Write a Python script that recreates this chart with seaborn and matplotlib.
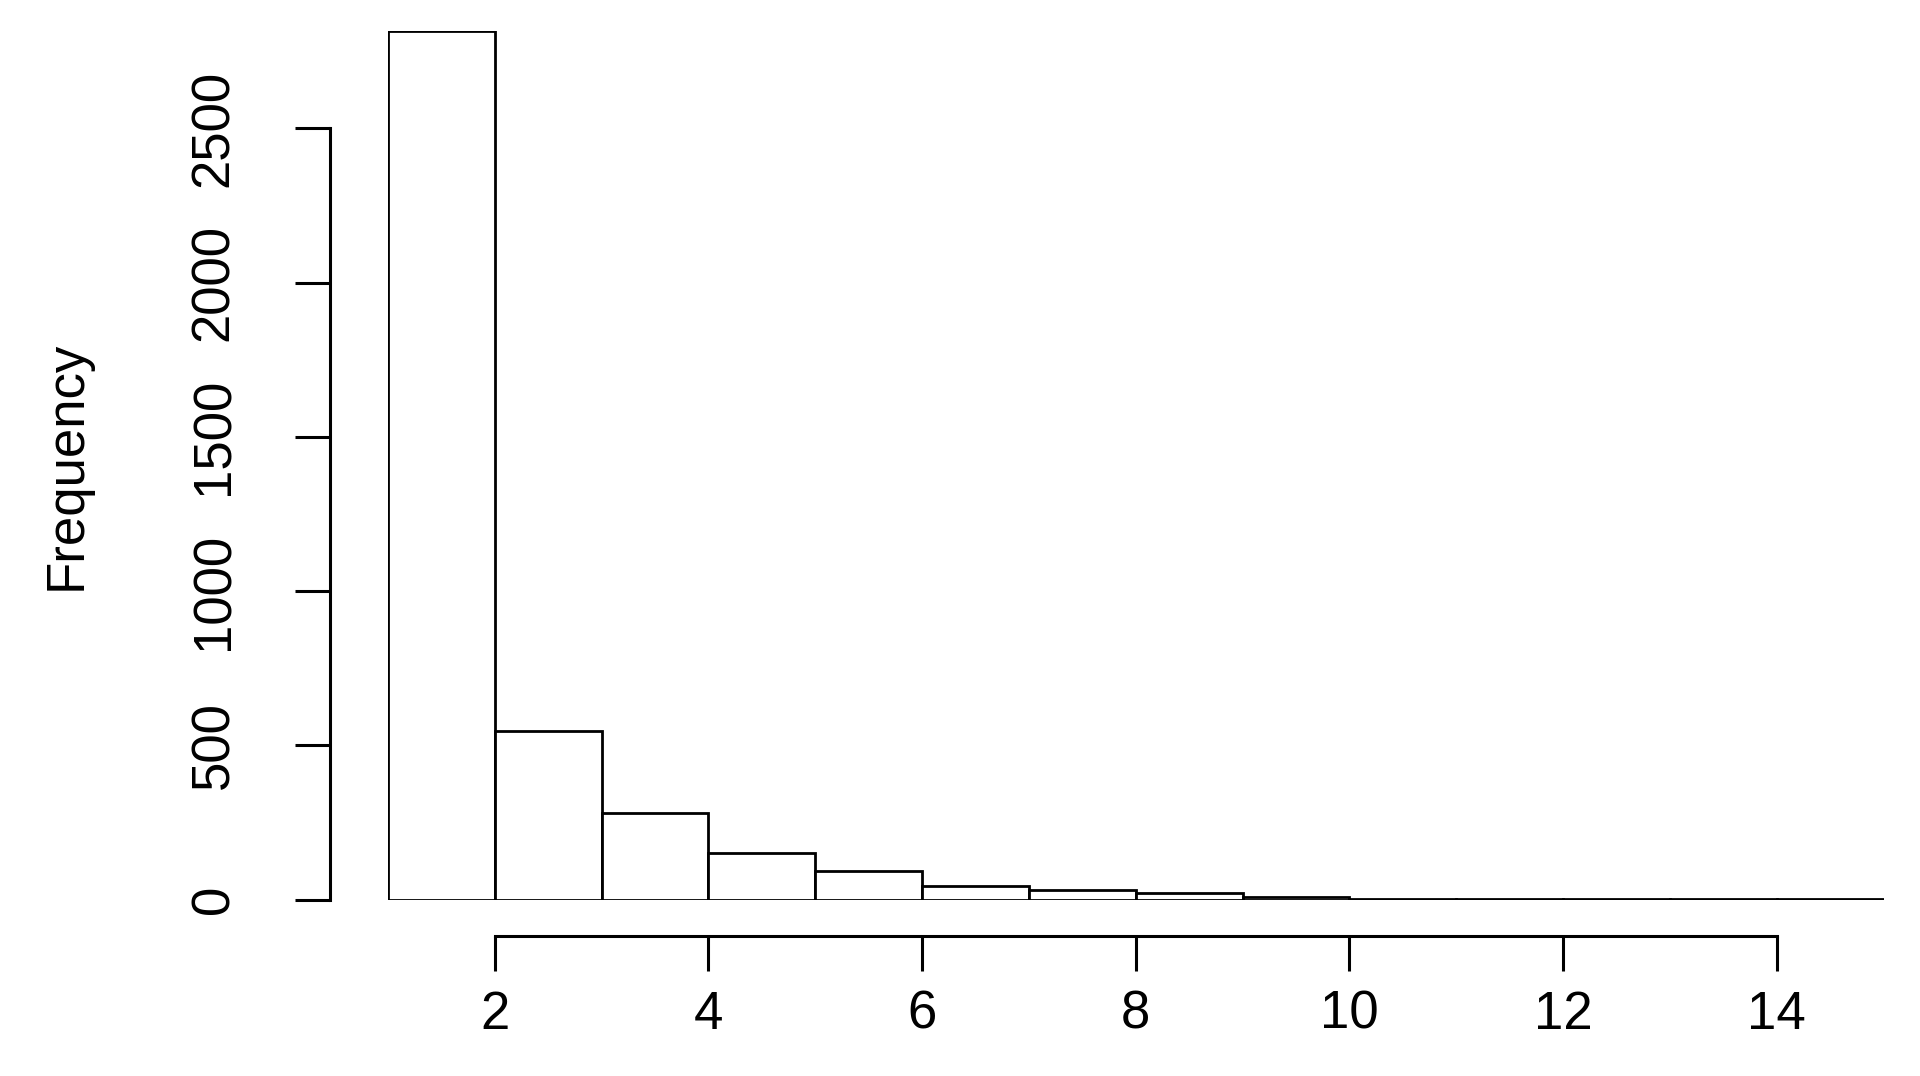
import matplotlib
matplotlib.use("Agg")
import matplotlib.pyplot as plt
import seaborn as sns
import pandas as pd

bin_left = [1, 2, 3, 4, 5, 6, 7, 8, 9, 10, 11, 12, 13, 14]
counts = [2815, 546, 279, 152, 92, 44, 32, 20, 8, 2, 1, 1, 1, 1]
x_ticks = [2, 4, 6, 8, 10, 12, 14]
y_ticks = [0, 500, 1000, 1500, 2000, 2500]

sns.set_style("white")
plt.rcParams['font.family'] = ['Liberation Sans', 'DejaVu Sans']
plt.rcParams['text.color'] = 'black'
plt.rcParams['axes.labelcolor'] = 'black'
plt.rcParams['xtick.color'] = 'black'
plt.rcParams['ytick.color'] = 'black'

df = pd.DataFrame({"v": [b + 0.5 for b in bin_left], "w": counts})
fig = plt.figure(figsize=(19.2, 10.76), dpi=100)
ax = fig.add_axes([0.202, 0.164, 0.779, 0.807])
sns.histplot(data=df, x="v", weights="w", bins=list(range(1, 16)), ax=ax,
             color="white", edgecolor="black", linewidth=2, alpha=1)
ax.set_xlim(1, 15)
ax.set_ylim(0, 2815)
ax.set_xticks(x_ticks)
ax.set_yticks(y_ticks)
ax.set_xlabel("")
ax.set_ylabel("Frequency", fontsize=38, labelpad=70, color="black")
for s in ["top", "right"]:
    ax.spines[s].set_visible(False)
ax.spines["left"].set_position(("outward", 42))
ax.spines["bottom"].set_position(("outward", 26))
ax.spines["left"].set_bounds(0, 2500)
ax.spines["bottom"].set_bounds(2, 14)
for s in ["left", "bottom"]:
    ax.spines[s].set_linewidth(2.2)
    ax.spines[s].set_color("black")
ax.tick_params(axis="x", length=25, width=2.2, labelsize=38, direction="out",
               bottom=True, pad=14, colors="black")
ax.tick_params(axis="y", length=25, width=2.2, labelsize=38, direction="out",
               left=True, pad=40, colors="black")
for lab in ax.get_yticklabels():
    lab.set_rotation(90)
    lab.set_va("center")
fig.savefig("out.png", dpi=100, facecolor="white")
